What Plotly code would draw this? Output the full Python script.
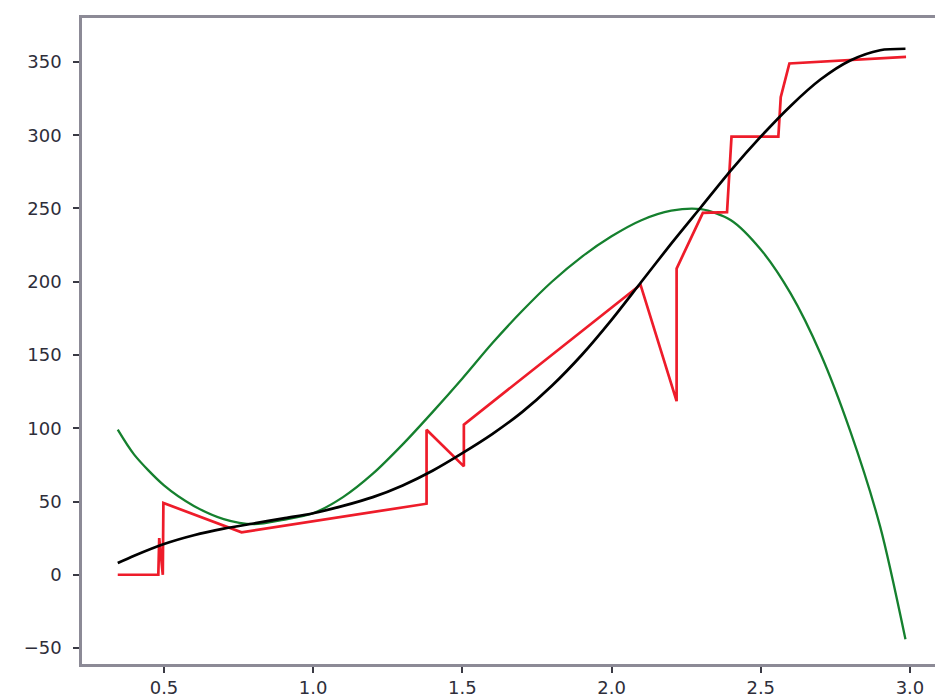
import plotly.graph_objects as go

# ---- data ----
fit_x = [0.345, 0.4, 0.5, 0.6, 0.7, 0.8, 0.9, 1.0, 1.1, 1.2, 1.3, 1.4, 1.5, 1.6, 1.7,
         1.8, 1.9, 2.0, 2.1, 2.2, 2.3, 2.4, 2.5, 2.6, 2.7, 2.8, 2.9, 2.985]
black_y = [8, 13, 21, 27, 31.5, 35, 38.5, 42, 47, 53, 61, 71, 83, 96, 111,
           129, 150, 174, 200, 226, 251, 276, 299, 320, 338, 351, 358, 359]
green_y = [99, 82, 61, 47, 38, 34.5, 37.5, 42, 53, 69, 89, 111, 134, 158, 180,
           200, 217, 231, 242, 248.5, 249.5, 242, 222, 192, 151, 98, 33, -44]

red_x = [0.345, 0.481, 0.484, 0.496, 0.498, 0.760, 1.380, 1.380, 1.505, 1.505,
         2.097, 2.218, 2.218, 2.306, 2.387, 2.402, 2.559, 2.567, 2.596, 2.987]
red_y = [0, 0, 25, 0, 49, 29, 48.5, 99, 74, 102.5,
         198, 118.5, 209, 247, 247.5, 299, 299, 326, 349, 353.5]

x_ticks = [0.5, 1.0, 1.5, 2.0, 2.5, 3.0]
y_ticks = [-50, 0, 50, 100, 150, 200, 250, 300, 350]

fig = go.Figure()
fig.add_trace(go.Scatter(x=fit_x, y=green_y, mode="lines",
                         line=dict(color="#15802e", width=2.3, shape="spline", smoothing=0.8)))
fig.add_trace(go.Scatter(x=red_x, y=red_y, mode="lines",
                         line=dict(color="#ee1c2a", width=2.7)))
fig.add_trace(go.Scatter(x=fit_x, y=black_y, mode="lines",
                         line=dict(color="#000000", width=2.7, shape="spline", smoothing=0.8)))

axis_common = dict(
    showgrid=False, zeroline=False, showline=True, automargin=False,
    linecolor="#8c8a96", linewidth=2.5,
    ticks="outside", ticklen=6, tickwidth=1.5, tickcolor="#3a3a44",
    tickfont=dict(family="DejaVu Sans", size=18, color="#2e2e3a"),
)

fig.update_layout(
    width=935, height=698,
    margin=dict(l=82, r=0, t=18, b=34, pad=0),
    paper_bgcolor="white", plot_bgcolor="white",
    showlegend=False,
    xaxis=dict(range=[0.2252, 3.084], tickvals=x_ticks,
               ticktext=[f"{v:.1f}" for v in x_ticks], mirror=True,
               ticklabelstandoff=0, **axis_common),
    yaxis=dict(range=[-60.9, 380], tickvals=y_ticks,
               ticktext=[("\u2212" + str(-v)) if v < 0 else str(v) for v in y_ticks],
               mirror=False, ticklabelstandoff=8, **axis_common),
)

fig.write_html("out.html",
               config={"displayModeBar": False},
               post_script="document.body.style.margin='0';document.body.style.overflow='hidden';")
